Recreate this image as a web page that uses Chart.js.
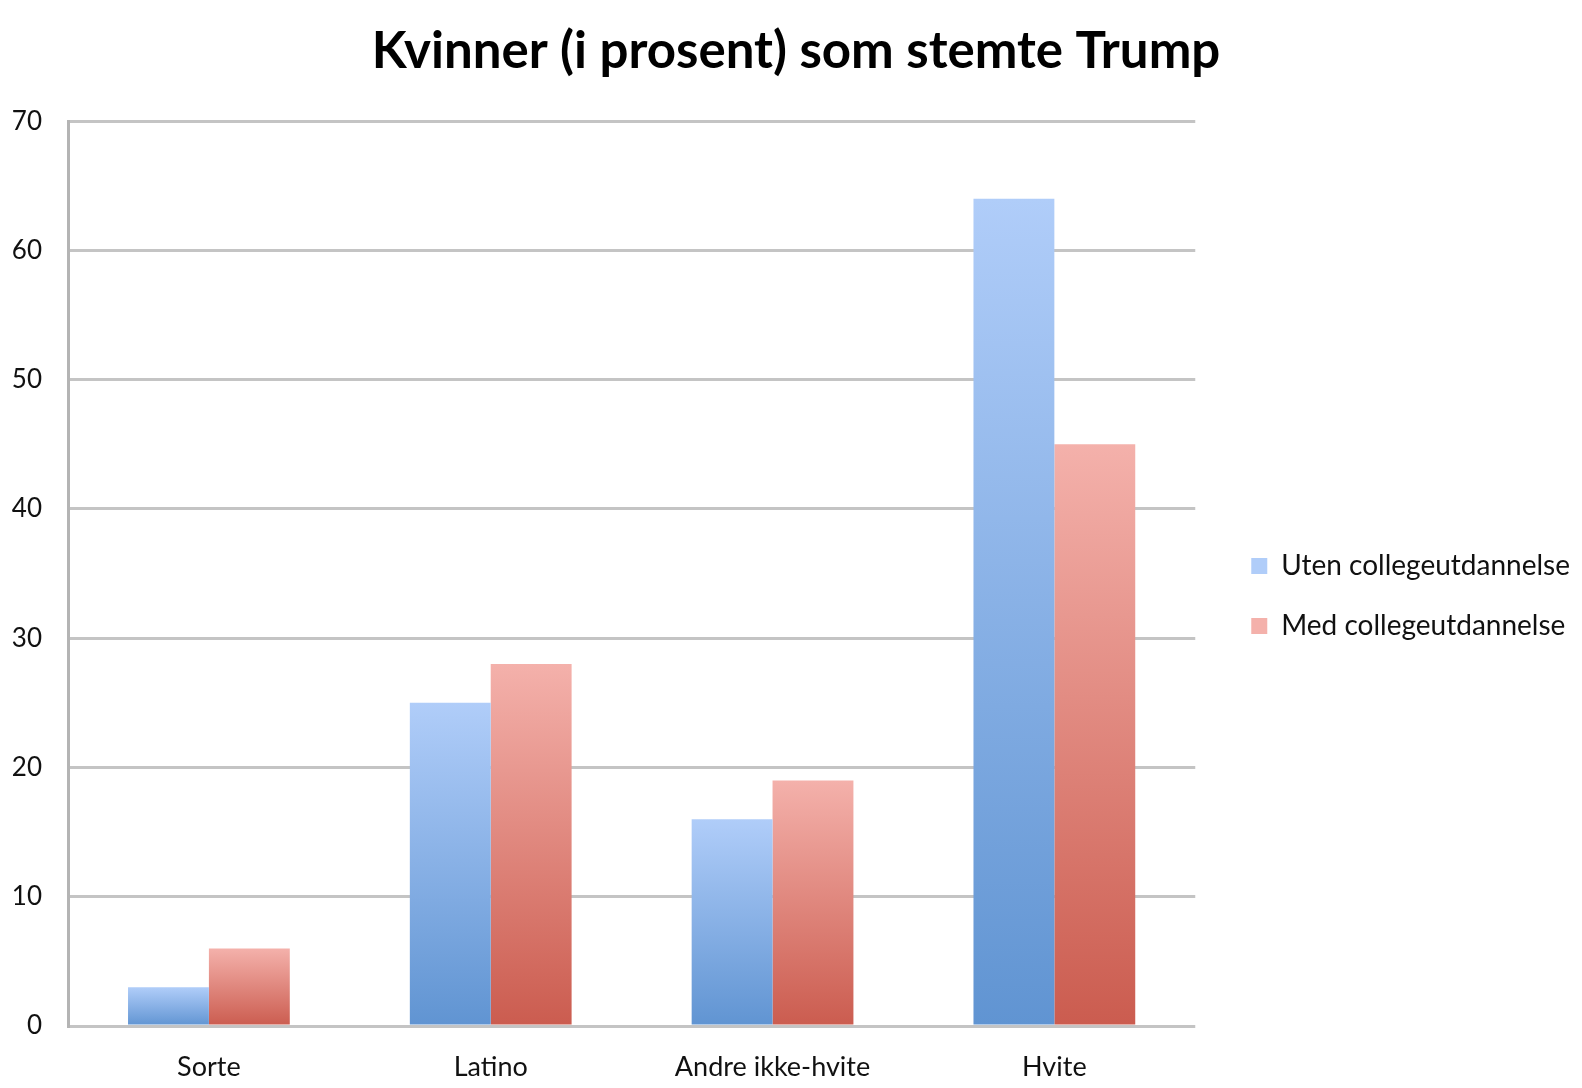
<!DOCTYPE html>
<html lang="no">
<head>
    <meta charset="UTF-8">
    <title>Kvinner (i prosent) som stemte Trump</title>
    <script src="https://cdn.jsdelivr.net/npm/chart.js"></script>
    <style>
        body { margin: 0; background: #fff; }
        #wrap { width: 1582px; height: 1088px; }
    </style>
</head>
<body>
    <div id="wrap"><canvas id="trumpChart"></canvas></div>

    <script>
        const categories = ['Sorte', 'Latino', 'Andre ikke-hvite', 'Hvite'];
        const utenCollege = [3, 25, 16, 64];
        const medCollege = [6, 28, 19, 45];

        // light top -> dark bottom, same as the original bars
        const blue = ['#b0cdf9', '#6094d2'];
        const red = ['#f4b1ab', '#cb5c4f'];

        function barGradient(colors) {
            return function (ctx) {
                const chart = ctx.chart;
                if (!chart.chartArea || ctx.type !== 'data') return colors[1];
                const y = chart.scales.y;
                const top = y.getPixelForValue(ctx.raw);
                const bottom = y.getPixelForValue(0);
                const g = chart.ctx.createLinearGradient(0, top, 0, bottom);
                g.addColorStop(0, colors[0]);
                g.addColorStop(1, colors[1]);
                return g;
            };
        }

        const ctx = document.getElementById('trumpChart').getContext('2d');
        new Chart(ctx, {
            type: 'bar',
            data: {
                labels: categories,
                datasets: [{
                    label: 'Uten collegeutdannelse',
                    data: utenCollege,
                    backgroundColor: barGradient(blue),
                    borderWidth: 0,
                }, {
                    label: 'Med collegeutdannelse',
                    data: medCollege,
                    backgroundColor: barGradient(red),
                    borderWidth: 0,
                }]
            },
            options: {
                responsive: true,
                maintainAspectRatio: false,
                animation: false,
                layout: { padding: { left: 12, right: 2, top: 0, bottom: 0 } },
                datasets: {
                    bar: { categoryPercentage: 0.574, barPercentage: 1 }
                },
                plugins: {
                    title: {
                        display: true,
                        text: 'Kvinner (i prosent) som stemte Trump',
                        color: '#000',
                        font: { family: 'Lato', size: 51, weight: 'bold' },
                        padding: { top: 21, bottom: 39 }
                    },
                    legend: {
                        position: 'right',
                        maxWidth: 420,
                        // blank title only pushes the items down a bit
                        title: { display: true, text: ' ', font: { size: 20 }, padding: 40 },
                        labels: {
                            color: '#111',
                            font: { family: 'Lato', size: 28 },
                            boxWidth: 16,
                            boxHeight: 16,
                            padding: 32
                        }
                    },
                    tooltip: { enabled: false }
                },
                scales: {
                    x: {
                        grid: { display: false },
                        border: { display: false },
                        ticks: {
                            color: '#111',
                            font: { family: 'Lato', size: 27 },
                            padding: 17
                        },
                        afterFit: s => { s.height = 62; }
                    },
                    y: {
                        min: 0,
                        max: 70,
                        ticks: {
                            stepSize: 10,
                            color: '#111',
                            font: { family: 'Lato', size: 26 },
                            padding: 26
                        },
                        grid: { color: '#c4c4c4', lineWidth: 3, drawTicks: false },
                        border: { display: true, color: '#b4b4b4', width: 3 },
                        afterFit: s => { s.width = 56; }
                    },
                    // empty spacer between plot and legend
                    gap: {
                        position: 'right',
                        display: true,
                        grid: { display: false },
                        border: { display: false },
                        ticks: { display: false },
                        afterFit: s => { s.width = 24; }
                    }
                }
            }
        });
    </script>
</body>
</html>
